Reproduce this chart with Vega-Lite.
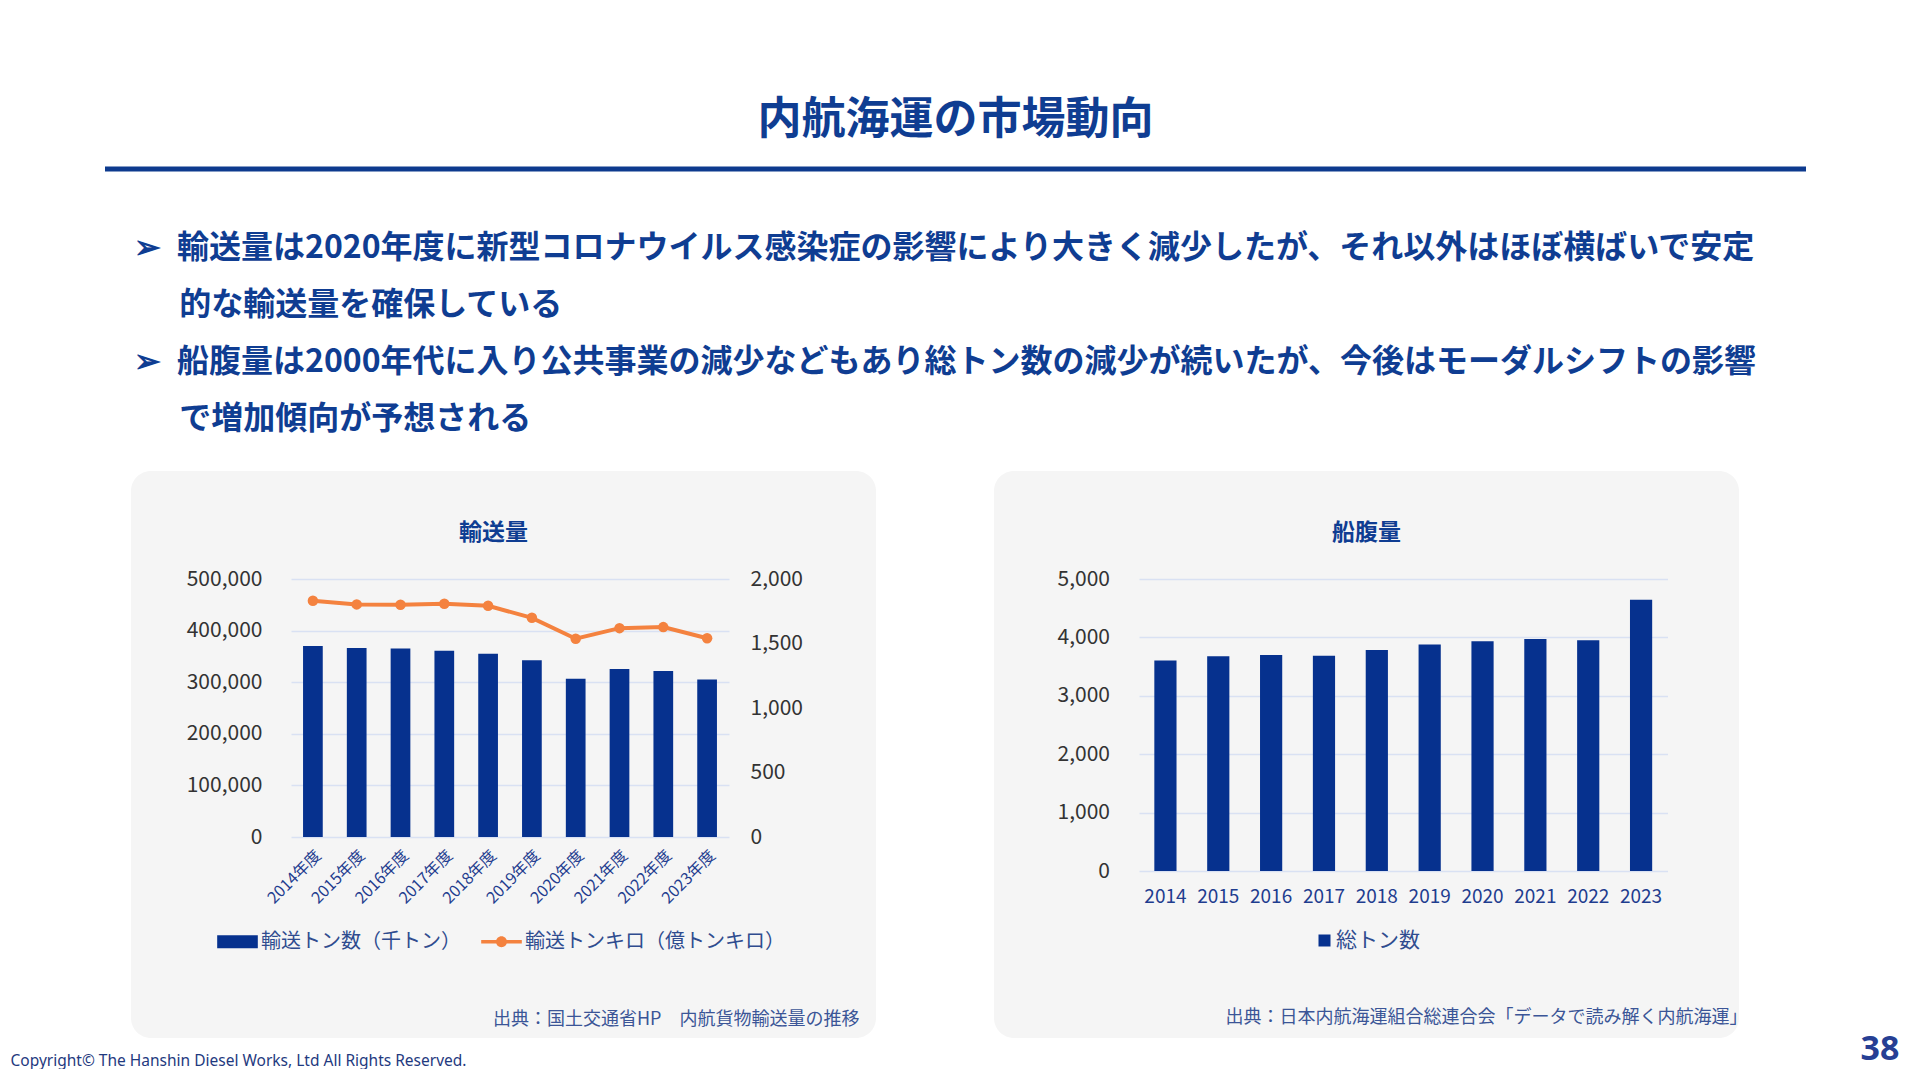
{
  "$schema": "https://vega.github.io/schema/vega-lite/v6.json",
  "background": "#ffffff",
  "padding": {"left": 10, "top": 98.5, "right": 0, "bottom": 0},
  "config": {
    "font": "Noto Sans CJK JP",
    "view": {"stroke": null},
    "axis": {"labelFont": "Noto Sans CJK JP", "titleFont": "Noto Sans CJK JP"},
    "legend": {"labelFont": "Noto Sans CJK JP"},
    "title": {"font": "Noto Sans CJK JP"}
  },
  "datasets": {
    "transport": [
      {"year": "2014年度", "tons": 370000, "tonkm": 1831},
      {"year": "2015年度", "tons": 366500, "tonkm": 1803},
      {"year": "2016年度", "tons": 365200, "tonkm": 1801},
      {"year": "2017年度", "tons": 361000, "tonkm": 1808},
      {"year": "2018年度", "tons": 355300, "tonkm": 1792},
      {"year": "2019年度", "tons": 342500, "tonkm": 1699},
      {"year": "2020年度", "tons": 306800, "tonkm": 1537},
      {"year": "2021年度", "tons": 325800, "tonkm": 1619},
      {"year": "2022年度", "tons": 321600, "tonkm": 1627},
      {"year": "2023年度", "tons": 305400, "tonkm": 1541}
    ],
    "fleet": [
      {"year": "2014", "gt": 3603},
      {"year": "2015", "gt": 3678},
      {"year": "2016", "gt": 3697},
      {"year": "2017", "gt": 3685},
      {"year": "2018", "gt": 3784},
      {"year": "2019", "gt": 3878},
      {"year": "2020", "gt": 3934},
      {"year": "2021", "gt": 3971},
      {"year": "2022", "gt": 3953},
      {"year": "2023", "gt": 4645}
    ]
  },
  "vconcat": [
    {
      "vconcat": [
        {
          "hconcat": [
            {"data": {"values": [{}]}, "mark": {"type": "text"}, "encoding": {"text": {"value": ""}}, "width": 1, "height": 1},
            {
              "data": {"values": [{}]},
              "mark": {"type": "text"},
              "encoding": {"text": {"value": ""}},
              "width": 1701,
              "height": 5,
              "view": {"fill": "#0d3a8e", "stroke": null},
              "title": {"text": "内航海運の市場動向", "fontSize": 44, "fontWeight": "bold", "color": "#0f3d92", "anchor": "middle", "offset": 20, "frame": "group"}
            }
          ],
          "spacing": 94
        },
        {
          "hconcat": [
            {"data": {"values": [{}]}, "mark": {"type": "text"}, "encoding": {"text": {"value": ""}}, "width": 1, "height": 1},
            {
              "title": {
                "text": [
                  "➢\u2002輸送量は2020年度に新型コロナウイルス感染症の影響により大きく減少したが、それ以外はほぼ横ばいで安定",
                  "\u200b\u3000\u2005\u2006的な輸送量を確保している",
                  "➢\u2002船腹量は2000年代に入り公共事業の減少などもあり総トン数の減少が続いたが、今後はモーダルシフトの影響",
                  "\u200b\u3000\u2005\u2006で増加傾向が予想される"
                ],
                "anchor": "start",
                "fontSize": 32,
                "fontWeight": "bold",
                "color": "#0f3d92",
                "lineHeight": 57,
                "offset": 35,
                "dx": 3
              },
              "resolve": {"scale": {"color": "independent"}, "legend": {"color": "independent"}},
              "hconcat": [
                {
                  "width": 745,
                  "height": 567,
                  "view": {"fill": "#f5f5f5", "stroke": null, "cornerRadius": 20},
                  "title": {"text": "輸送量", "fontSize": 23, "fontWeight": "bold", "color": "#0f3d92", "offset": -74, "dx": -10, "anchor": "middle", "frame": "group"},
                  "data": {"name": "transport"},
                  "layer": [
                    {
                      "mark": {"type": "bar"},
                      "encoding": {
                        "x": {
                          "field": "year", "type": "nominal", "sort": null,
                          "scale": {"range": [160, 598], "paddingInner": 0.55, "paddingOuter": 0.275},
                          "axis": {
                            "title": "出典：国土交通省HP　内航貨物輸送量の推移",
                            "offset": -201, "labelAngle": -45, "labelFontSize": 16, "labelColor": "#1f3d8f", "labelPadding": 10,
                            "domain": false, "ticks": false,
                            "titleX": 728, "titleY": 182, "titleAlign": "right", "titleBaseline": "middle", "titleAngle": 0,
                            "titleFontSize": 18, "titleFontWeight": "normal", "titleColor": "#3b5597"
                          }
                        },
                        "y": {
                          "field": "tons", "type": "quantitative",
                          "scale": {"domain": [0, 500000], "range": [366, 108], "nice": false},
                          "axis": {
                            "title": null, "offset": -160, "values": [0, 100000, 200000, 300000, 400000, 500000], "format": ",.0f",
                            "labelFontSize": 21, "labelColor": "#333333", "labelPadding": 29, "domain": false, "ticks": false,
                            "grid": true, "gridColor": "#d9e1f3", "gridWidth": 1.5
                          }
                        },
                        "color": {
                          "datum": "輸送トン数（千トン）", "type": "nominal",
                          "scale": {"domain": ["輸送トン数（千トン）", "輸送トンキロ（億トンキロ）"], "range": ["#06318e", "#f4823f"]},
                          "legend": {
                            "orient": "none", "legendX": 86, "legendY": 450, "direction": "horizontal", "title": null,
                            "labelFontSize": 20, "labelColor": "#2f4c8f", "labelOffset": 3, "labelLimit": 500, "columnPadding": 20, "symbolSize": 1650, "padding": 0,
                            "encode": {
                              "symbols": {
                                "update": {
                                  "shape": {"signal": "datum.value === '輸送トン数（千トン）' ? 'M-1,-0.32H1V0.32H-1Z' : 'M-1,-0.09H1V0.09H-1Z M0.27,0A0.27,0.27,0,1,1,-0.27,0A0.27,0.27,0,1,1,0.27,0Z'"},
                                  "fill": {"signal": "datum.value === '輸送トン数（千トン）' ? '#06318e' : '#f4823f'"},
                                  "stroke": {"value": "transparent"},
                                  "strokeWidth": {"value": 0},
                                  "opacity": {"value": 1}
                                }
                              }
                            }
                          }
                        }
                      }
                    },
                    {
                      "mark": {"type": "line", "strokeWidth": 4, "point": {"filled": true, "size": 110}},
                      "encoding": {
                        "x": {"field": "year", "type": "nominal", "sort": null},
                        "y": {
                          "field": "tonkm", "type": "quantitative",
                          "scale": {"domain": [0, 2000], "range": [366, 108], "nice": false},
                          "axis": {
                            "orient": "right", "title": null, "offset": -147, "values": [0, 500, 1000, 1500, 2000], "format": ",.0f",
                            "labelFontSize": 21, "labelColor": "#333333", "labelPadding": 21, "domain": false, "ticks": false, "grid": false
                          }
                        },
                        "color": {"datum": "輸送トンキロ（億トンキロ）", "type": "nominal"}
                      }
                    }
                  ],
                  "resolve": {"scale": {"y": "independent"}, "axis": {"y": "independent"}}
                },
                {
                  "width": 745,
                  "height": 567,
                  "view": {"fill": "#f5f5f5", "stroke": null, "cornerRadius": 20},
                  "title": {"text": "船腹量", "fontSize": 23, "fontWeight": "bold", "color": "#0f3d92", "offset": -74, "anchor": "middle", "frame": "group"},
                  "data": {"name": "fleet"},
                  "mark": {"type": "bar"},
                  "encoding": {
                    "x": {
                      "field": "year", "type": "nominal", "sort": null,
                      "scale": {"range": [145, 673.5], "paddingInner": 0.58, "paddingOuter": 0.29},
                      "axis": {
                        "title": "出典：日本内航海運組合総連合会「データで読み解く内航海運」",
                        "offset": -167, "labelAngle": 0, "labelFontSize": 19, "labelColor": "#1f3d8f", "labelPadding": 16,
                        "domain": false, "ticks": false,
                        "titleX": 753, "titleY": 146, "titleAlign": "right", "titleBaseline": "middle", "titleAngle": 0,
                        "titleFontSize": 18, "titleFontWeight": "normal", "titleColor": "#3b5597"
                      }
                    },
                    "y": {
                      "field": "gt", "type": "quantitative",
                      "scale": {"domain": [0, 5000], "range": [400, 108], "nice": false},
                      "axis": {
                        "title": null, "offset": -145, "values": [0, 1000, 2000, 3000, 4000, 5000], "format": ",.0f",
                        "labelFontSize": 21, "labelColor": "#333333", "labelPadding": 29.5, "domain": false, "ticks": false,
                        "grid": true, "gridColor": "#d9e1f3", "gridWidth": 1.5
                      }
                    },
                    "color": {
                      "datum": "総トン数", "type": "nominal",
                      "scale": {"domain": ["総トン数"], "range": ["#06318e"]},
                      "legend": {
                        "orient": "none", "legendX": 320, "legendY": 459, "title": null, "symbolType": "square", "symbolSize": 144,
                        "labelFontSize": 21, "labelColor": "#2f4c8f", "labelOffset": 1, "labelLimit": 500, "padding": 0, "symbolStrokeWidth": 0
                      }
                    }
                  }
                }
              ],
              "spacing": 118
            }
          ],
          "spacing": 120
        }
      ],
      "spacing": 57.5
    },
    {
      "hconcat": [
        {
          "data": {"values": [{}]},
          "mark": {"type": "text", "align": "left", "baseline": "middle", "fontSize": 15.5, "font": "Noto Sans", "color": "#1f3a80"},
          "encoding": {"text": {"value": "Copyright© The Hanshin Diesel Works, Ltd All Rights Reserved."}},
          "width": 1, "height": 1
        },
        {
          "data": {"values": [{}]},
          "mark": {"type": "text", "align": "left", "baseline": "middle", "fontSize": 34, "fontWeight": "bold", "font": "Noto Sans", "color": "#263f94", "dy": -11},
          "encoding": {"text": {"value": "38"}},
          "width": 1, "height": 1
        }
      ],
      "spacing": 1849,
      "bounds": "flush"
    }
  ],
  "spacing": -6
}
